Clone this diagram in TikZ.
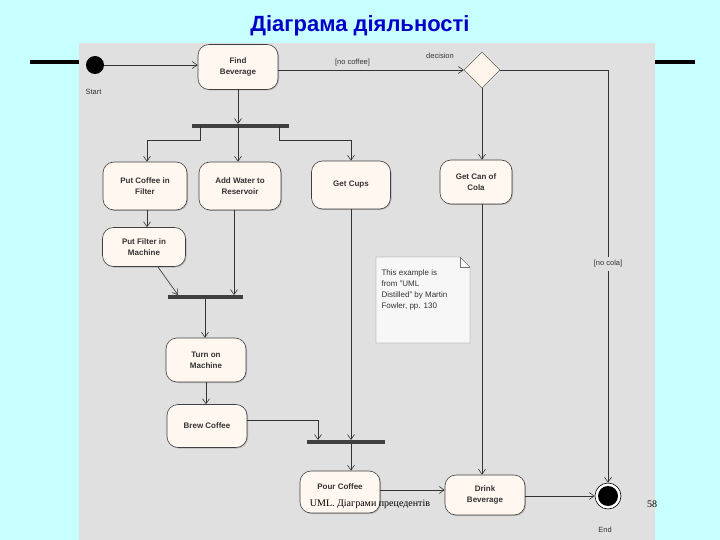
\documentclass[tikz,border=0pt]{standalone}
\usepackage{fontspec}
\setmainfont{Liberation Sans}
\newfontfamily\serifff{Liberation Serif}
\usetikzlibrary{shapes.geometric,arrows.meta,shadows}
\definecolor{slidebg}{RGB}{200,255,255}
\begin{document}
\begin{tikzpicture}[x=1pt,y=-1pt,
  act/.style={draw=black!75,fill=black!3!orange!6,rounded corners=11pt,minimum width=80pt,minimum height=44pt,align=center,font=\bfseries\fontsize{8}{11}\selectfont,text=black!80,line width=0.6pt,drop shadow={shadow xshift=1pt,shadow yshift=-1pt,fill=black!45}},
  bar/.style={line width=4pt,draw=black!75},
  flow/.style={draw=black!80,line width=0.6pt,-{Straight Barb[length=5pt,width=7pt]}},
  lbl/.style={font=\fontsize{7.5}{8}\selectfont,text=black!80}]
\useasboundingbox (0,0) rectangle (720,540);
\fill[slidebg] (0,0) rectangle (720,540);
\fill[black!12] (79,43) rectangle (655,540);
\draw[line width=4pt] (30,62) -- (79,62) (655,62) -- (695,62);
\node[font=\bfseries\fontsize{22}{24}\selectfont,text={rgb,255:red,0;green,0;blue,200}] (title) at (360,26) {Діаграма діяльності};
% nodes
\node[circle,fill=black,minimum size=18pt,inner sep=0] (start) at (95,65) {};
\node[lbl,anchor=north west] (startl) at (82,86) {Start};
\node[act,minimum height=45pt] (find) at (238,67) {Find\\Beverage};
\node[diamond,draw=black!75,fill=orange!8,minimum size=36pt,inner sep=0] (dec) at (482,70) {};
\node[lbl] (decl) at (440,56) {decision};
\coordinate (b1l) at (192,126); \coordinate (b1r) at (289,126);
\draw[bar] (b1l) -- (b1r);
\node[act,minimum width=84pt,minimum height=48pt] (pcf) at (145,186) {Put Coffee in\\Filter};
\node[act,minimum width=82pt,minimum height=48pt] (aw) at (240,186) {Add Water to\\Reservoir};
\node[act,minimum width=79pt,minimum height=48pt] (cups) at (351,185) {Get Cups};
\node[act,minimum width=72pt,minimum height=44pt] (cola) at (476,182) {Get Can of\\Cola};
\node[act,minimum width=83pt,minimum height=39pt] (pfm) at (144,247) {Put Filter in\\Machine};
\coordinate (b2l) at (168,297); \coordinate (b2r) at (243,297);
\draw[bar] (b2l) -- (b2r);
\node[act,minimum width=80pt,minimum height=44pt] (tom) at (206,360) {Turn on\\Machine};
\node[act,minimum width=80pt,minimum height=43pt] (brew) at (207,426) {Brew Coffee};
\coordinate (b3l) at (307,442); \coordinate (b3r) at (385,442);
\draw[bar] (b3l) -- (b3r);
\node[act,minimum width=80pt,minimum height=42pt] (pour) at (340,492) {Pour Coffee\\\phantom{X}};
\node[act,minimum width=80pt,minimum height=40pt] (drink) at (485,495) {Drink\\Beverage};
\node[circle,draw=black,fill=white,minimum size=26pt,inner sep=0,line width=0.6pt] (end) at (608,496) {};
\fill (end.center) circle (10pt);
\node[lbl] (endl) at (605,530) {End};
% note
\draw[fill=black!3,draw=black!55] (376,257) -- (460,257) -- (470,267) -- (470,343) -- (376,343) -- cycle;
\draw[draw=black!55] (460,257) -- (460,267) -- (470,267);
\node[lbl,align=left,anchor=north west,font=\fontsize{8}{11}\selectfont] (note) at (378,266) {This example is\\from "UML\\Distilled" by Martin\\Fowler, pp. 130};
% flows
\draw[flow] (start) -- (start -| find.west);
\draw[flow] (find.east |- dec) -- node[lbl,above,pos=0.4] {[no coffee]} (dec.west);
\draw[flow] (find.south) -- (238,124);
\draw[flow] (200,126) -- (200,140) -- (147,140) -- (pcf.north -| 147,0);
\draw[flow] (238,126) -- (aw.north -| 238,0);
\draw[flow] (279,126) -- (279,140) -- (351,140) -- (cups.north);
\draw[flow] (dec.south) -- (cola.north -| dec.south);
\draw[flow] (pcf.south -| 147,0) -- (pfm.north -| 147,0);
\draw[flow] (158,267) -- (178,295);
\draw[flow] (234,210) -- (234,295);
\draw[flow] (205,299) -- (tom.north -| 205,0);
\draw[flow] (tom.south -| 206,0) -- (brew.north -| 206,0);
\draw[flow] (brew.east |- 0,420) -- (318,420) -- (318,440);
\draw[flow] (cups.south) -- (351,440);
\draw[flow] (351,444) -- (pour.north -| 351,0);
\draw[flow] (pour.east |- 0,490) -- (drink.west |- 0,490);
\draw[flow] (cola.south -| 482,0) -- (drink.north -| 482,0);
\draw[flow] (drink.east |- end) -- (end.west);
\draw[flow] (dec.east) -- (608,70) -- node[lbl,pos=0.47,fill=black!12] {[no cola]} (end.north);
% footer
\node[font=\serifff\fontsize{10}{12}\selectfont] (foot) at (370,504) {UML. Діаграми прецедентів};
\node[font=\serifff\fontsize{10}{12}\selectfont] (page) at (652,504) {58};
\end{tikzpicture}
\end{document}
